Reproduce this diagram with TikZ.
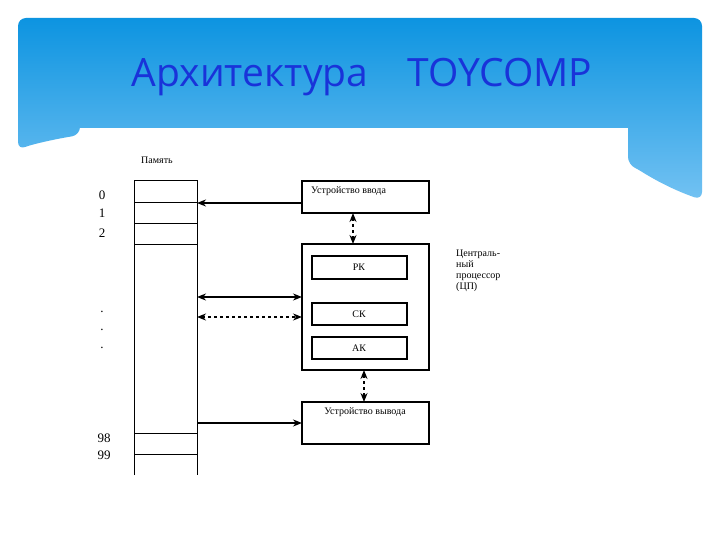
\documentclass[tikz,border=0pt]{standalone}
\usepackage{fontspec}
\setmainfont{Liberation Serif}
\newfontfamily\titlefont{Open Sans}
\usetikzlibrary{arrows.meta}
\definecolor{skytop}{rgb}{0.05,0.58,0.88}
\definecolor{skybot}{rgb}{0.45,0.76,0.95}
\definecolor{titleblue}{rgb}{0.1,0.2,0.85}
\begin{document}
\begin{tikzpicture}[x=1pt,y=-1pt,
  box/.style={draw,line width=1.8pt},
  inner/.style={draw,line width=1.3pt},
  conn/.style={line width=1.5pt,-{Stealth[length=9pt,width=7pt]}},
  bconn/.style={line width=1.5pt,{Stealth[length=9pt,width=7pt]}-{Stealth[length=9pt,width=7pt]}},
  lbl/.style={font=\fontsize{10}{11}\selectfont,inner sep=0pt},
  num/.style={font=\fontsize{13}{13}\selectfont,inner sep=0pt}]
\useasboundingbox (0,0) rectangle (720,540);
\fill[white] (0,0) rectangle (720,540);
\shade[top color=skytop,bottom color=skybot,rounded corners=8pt]
  (18,18) -- (702,18) -- (702,200) .. controls (660,185) and (640,170) .. (628,165) -- (628,128) -- (80,128) -- (80,135) .. controls (50,140) and (30,145) .. (18,150) -- cycle;
\fill[white] (80,128) rectangle (628,540);
\node[font=\titlefont\fontsize{39}{42}\selectfont,text=titleblue] (title) at (362,77) {Архитектура\quad TOYCOMP};
\node[lbl] (mem) at (157,160) {Память};
\draw[line width=1pt] (134,475) |- (197,181) -- (197,475);
\foreach \y in {203,224,433,454} \draw[line width=1pt] (134,\y) -- (197,\y);
\draw[line width=0.6pt] (134,244) -- (197,244);
\node[num] (n0) at (102,195) {0};
\node[num] (n1) at (102,213) {1};
\node[num] (n2) at (102,233) {2};
\node[num] (d1) at (102,312) {.};
\node[num] (d2) at (102,330) {.};
\node[num] (d3) at (102,348) {.};
\node[num] (n98) at (104,438) {98};
\node[num] (n99) at (104,455) {99};
\coordinate (m203) at (197,203);
\coordinate (m297) at (197,297);
\coordinate (m317) at (197,317);
\coordinate (m423) at (197,423);
\draw[box] (302,181) rectangle (429,213);
\node[lbl,anchor=west] (in) at (311,191) {Устройство ввода};
\draw[box] (302,244) rectangle (429,370);
\draw[inner] (312,256) rectangle (407,279); \node[lbl] (pk) at (359,267) {РК};
\draw[inner] (312,303) rectangle (407,325); \node[lbl] (ck) at (359,314) {СК};
\draw[inner] (312,337) rectangle (407,359); \node[lbl] (ak) at (359,348) {АК};
\draw[box] (302,402) rectangle (429,444);
\node[lbl] (out) at (365,412) {Устройство вывода};
\node[lbl,align=left,anchor=north west] (cpu) at (456,250) {Централь-\\ный\\процессор\\(ЦП)};
\coordinate (i203) at (302,203);
\coordinate (c297) at (302,297);
\coordinate (c317) at (302,317);
\coordinate (o423) at (302,423);
\draw[conn] (i203) -- (m203);
\draw[bconn] (m297) -- (c297);
\draw[bconn,dashed] (m317) -- (c317);
\draw[conn] (m423) -- (o423);
\coordinate (a1) at (353,213); \coordinate (a2) at (353,244);
\coordinate (b1) at (364,370); \coordinate (b2) at (364,402);
\draw[bconn,dashed,line width=2.2pt] (a1) -- (a2);
\draw[bconn,dashed,line width=2.2pt] (b1) -- (b2);
\end{tikzpicture}
\end{document}
